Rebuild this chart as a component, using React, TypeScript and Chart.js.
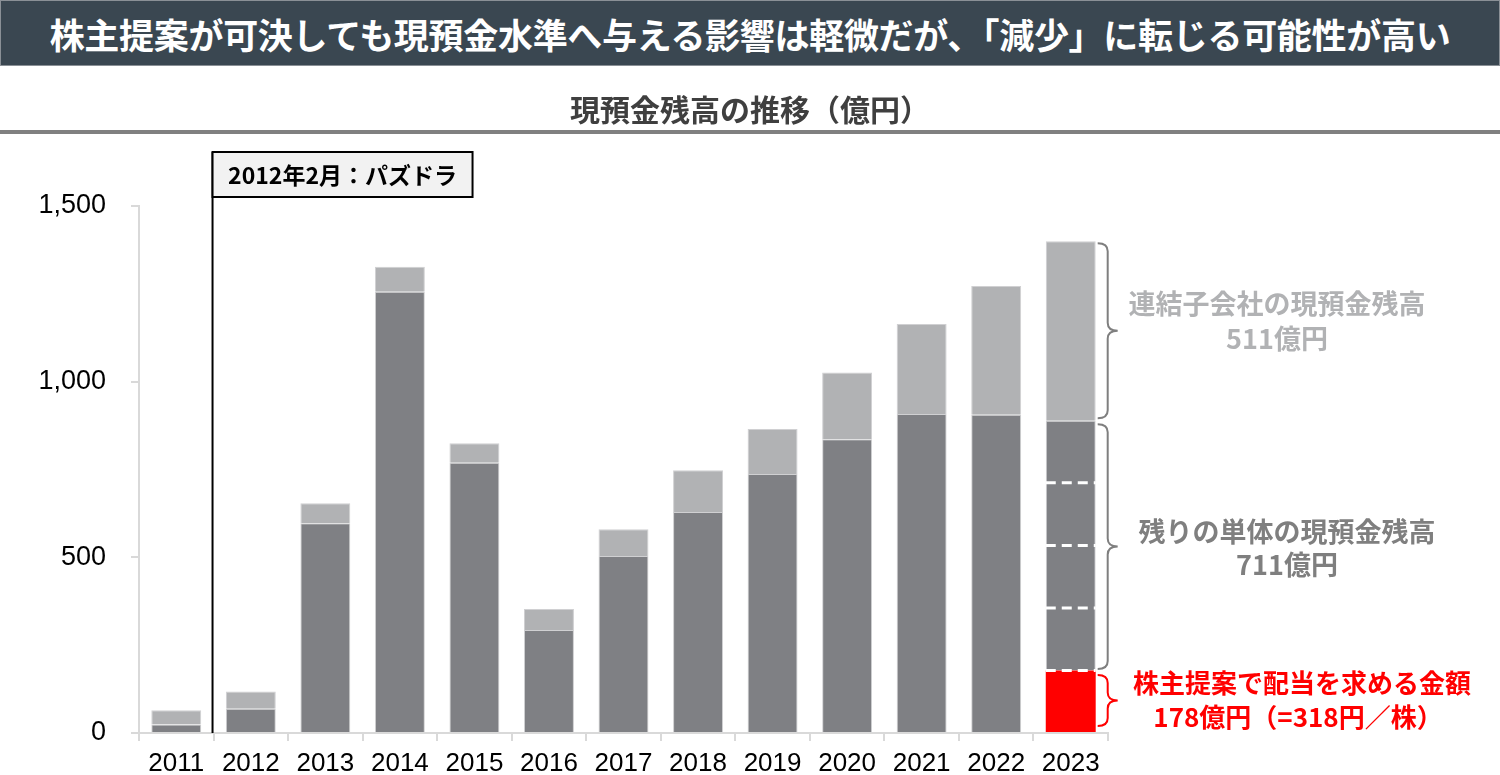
import React, { useEffect, useRef } from "react";
import { Chart, registerables } from "chart.js";

Chart.register(...registerables);

const years = ["2011", "2012", "2013", "2014", "2015", "2016", "2017", "2018", "2019", "2020", "2021", "2022", "2023"];
const dividendAsk = [null, null, null, null, null, null, null, null, null, null, null, null, 178];
const parentCash = [24, 69, 597, 1256, 769, 293, 504, 629, 737, 836, 908, 906, 711];
const subsidiaryCash = [41, 49, 57, 71, 56, 60, 76, 119, 128, 190, 256, 366, 511];
const dashLevels = [178, 356, 534, 712];
const yTicks = [0, 500, 1000, 1500];

const titleText = "株主提案が可決しても現預金水準へ与える影響は軽微だが、「減少」に転じる可能性が高い";
const subtitleText = "現預金残高の推移（億円）";
const eventText = "2012年2月：パズドラ";
const subsidiaryLabel = ["連結子会社の現預金残高", "511億円"];
const parentLabel = ["残りの単体の現預金残高", "711億円"];
const dividendLabel = ["株主提案で配当を求める金額", "178億円（=318円／株）"];

const JP = '"Noto Sans CJK JP", "Noto Sans", sans-serif';
const LATIN = '"Liberation Sans", Arial, sans-serif';
const DARK = "#7f8084";
const LIGHT = "#b1b2b4";
const RED = "#ff0000";

function drawBrace(ctx: CanvasRenderingContext2D, x: number, yTop: number, yBot: number, color: string) {
  const w = 10;
  const mid = (yTop + yBot) / 2;
  const r = Math.min(8, (yBot - yTop) / 4);
  ctx.save();
  ctx.strokeStyle = color;
  ctx.lineWidth = 2;
  ctx.beginPath();
  ctx.moveTo(x, yTop);
  ctx.quadraticCurveTo(x + w, yTop, x + w, yTop + r);
  ctx.lineTo(x + w, mid - r);
  ctx.quadraticCurveTo(x + w, mid, x + 2 * w, mid);
  ctx.quadraticCurveTo(x + w, mid, x + w, mid + r);
  ctx.lineTo(x + w, yBot - r);
  ctx.quadraticCurveTo(x + w, yBot, x, yBot);
  ctx.stroke();
  ctx.restore();
  return mid;
}

const annotations = {
  id: "annotations",
  afterDatasetsDraw(chart: any) {
    const ctx: CanvasRenderingContext2D = chart.ctx;
    const xs = chart.scales.x;
    const ys = chart.scales.y;
    const area = chart.chartArea;
    const last = years.length - 1;

    // dashed separators in the last bar
    const bar = chart.getDatasetMeta(1).data[last];
    const bl = bar.x - bar.width / 2;
    const br = bar.x + bar.width / 2;
    ctx.save();
    ctx.strokeStyle = "#ffffff";
    ctx.lineWidth = 3;
    ctx.setLineDash([10, 6]);
    dashLevels.forEach((v) => {
      const y = ys.getPixelForValue(v);
      ctx.beginPath();
      ctx.moveTo(bl, y);
      ctx.lineTo(br, y);
      ctx.stroke();
    });
    ctx.restore();

    // event marker
    const x0 = (xs.getPixelForValue(0) + xs.getPixelForValue(1)) / 2 - 1;
    const boxTop = 152;
    const boxH = 45;
    const boxW = 260;
    ctx.save();
    ctx.strokeStyle = "#000";
    ctx.lineWidth = 2;
    ctx.beginPath();
    ctx.moveTo(x0, boxTop);
    ctx.lineTo(x0, area.bottom);
    ctx.stroke();
    ctx.fillStyle = "#f2f2f2";
    ctx.fillRect(x0, boxTop, boxW, boxH);
    ctx.strokeRect(x0, boxTop, boxW, boxH);
    ctx.fillStyle = "#000";
    ctx.font = `bold 23px ${JP}`;
    ctx.textAlign = "center";
    ctx.textBaseline = "middle";
    ctx.fillText(eventText, x0 + boxW / 2, boxTop + boxH / 2 + 1);
    ctx.restore();

    // braces
    const bx = br + 2;
    const totalTop = ys.getPixelForValue(dividendAsk[last]! + parentCash[last] + subsidiaryCash[last]);
    const parentTop = ys.getPixelForValue(dividendAsk[last]! + parentCash[last]);
    const redTop = ys.getPixelForValue(dividendAsk[last]!);
    const zero = ys.getPixelForValue(0);
    const m1 = drawBrace(ctx, bx, totalTop + 2, parentTop - 2.5, "#7f7f7f");
    const m2 = drawBrace(ctx, bx, parentTop + 3.5, redTop - 1.5, "#7f7f7f");
    const m3 = drawBrace(ctx, bx, redTop + 4.5, zero - 7, RED);

    ctx.save();
    ctx.textAlign = "center";
    ctx.textBaseline = "middle";
    ctx.font = `bold 27px ${JP}`;
    ctx.fillStyle = LIGHT;
    ctx.fillText(subsidiaryLabel[0], 1277, m1 - 27);
    ctx.fillText(subsidiaryLabel[1], 1277, m1 + 8);
    ctx.fillStyle = "#7f7f7f";
    ctx.fillText(parentLabel[0], 1287, m2 - 15);
    ctx.fillText(parentLabel[1], 1287, m2 + 18);
    ctx.font = `bold 26px ${JP}`;
    ctx.fillStyle = RED;
    ctx.fillText(dividendLabel[0], 1302, m3 - 17);
    ctx.fillText(dividendLabel[1], 1298, m3 + 17);
    ctx.restore();
  },
};

export default function App() {
  const ref = useRef<HTMLCanvasElement>(null);
  useEffect(() => {
    if (!ref.current) return;
    const chart = new Chart(ref.current, {
      type: "bar",
      data: {
        labels: years,
        datasets: [
          { label: "配当要求額", data: dividendAsk as any, backgroundColor: RED, borderWidth: 0 },
          { label: "単体", data: parentCash, backgroundColor: DARK, borderColor: "#d0d0d2", borderWidth: 1 },
          { label: "連結子会社", data: subsidiaryCash, backgroundColor: LIGHT, borderColor: "#d0d0d2", borderWidth: 1 },
        ],
      },
      options: {
        responsive: false,
        animation: false,
        events: [],
        layout: { padding: { top: 206, right: 392, left: 0, bottom: 0 } },
        datasets: { bar: { barPercentage: 1, categoryPercentage: 0.67 } },
        plugins: { legend: { display: false }, tooltip: { enabled: false }, title: { display: false } },
        scales: {
          x: {
            stacked: true,
            offset: true,
            grid: { drawOnChartArea: false, drawTicks: true, tickLength: 8, color: "#d9d9d9", lineWidth: 2, offset: true },
            border: { display: true, color: "#d9d9d9", width: 2 },
            ticks: { color: "#000", font: { family: LATIN, size: 26 }, padding: 7, maxRotation: 0, autoSkip: false },
            afterFit: (s: any) => { s.height = 42; },
          },
          y: {
            stacked: true,
            min: 0,
            max: 1500,
            afterBuildTicks: (s: any) => { s.ticks = yTicks.map((v) => ({ value: v })); },
            ticks: {
              color: "#000",
              font: { family: LATIN, size: 27 },
              padding: 25,
              callback: (v: any) => Number(v).toLocaleString("en-US"),
            },
            grid: { drawOnChartArea: false, drawTicks: true, tickLength: 8, color: "#d9d9d9", lineWidth: 2 },
            border: { display: true, color: "#d9d9d9", width: 2 },
            afterFit: (s: any) => { s.width = 139; },
          },
        },
      },
      plugins: [annotations],
    });
    return () => chart.destroy();
  }, []);

  return (
    <div style={{ position: "absolute", left: 0, top: 0, width: 1500, height: 775, background: "#fff", overflow: "hidden" }}>
      <canvas ref={ref} width={1500} height={775} style={{ position: "absolute", left: 0, top: 0, width: 1500, height: 775 }} />
      <div
        style={{
          position: "absolute", left: 0, top: 0, width: 1498, height: 64,
          background: "#3a4751", border: "1px solid #8a9096",
          color: "#fff", fontFamily: JP, fontWeight: 700, fontSize: 35,
          display: "flex", alignItems: "center", justifyContent: "center", whiteSpace: "nowrap", letterSpacing: -0.3,
        }}
      >
        {titleText}
      </div>
      <div
        style={{
          position: "absolute", left: 0, top: 86, width: 1500, height: 44, textAlign: "center",
          color: "#3f3f3f", fontFamily: JP, fontWeight: 700, fontSize: 30, lineHeight: "44px", whiteSpace: "nowrap",
        }}
      >
        {subtitleText}
      </div>
      <div style={{ position: "absolute", left: 0, top: 130, width: 1500, height: 4, background: "#808080" }} />
    </div>
  );
}
